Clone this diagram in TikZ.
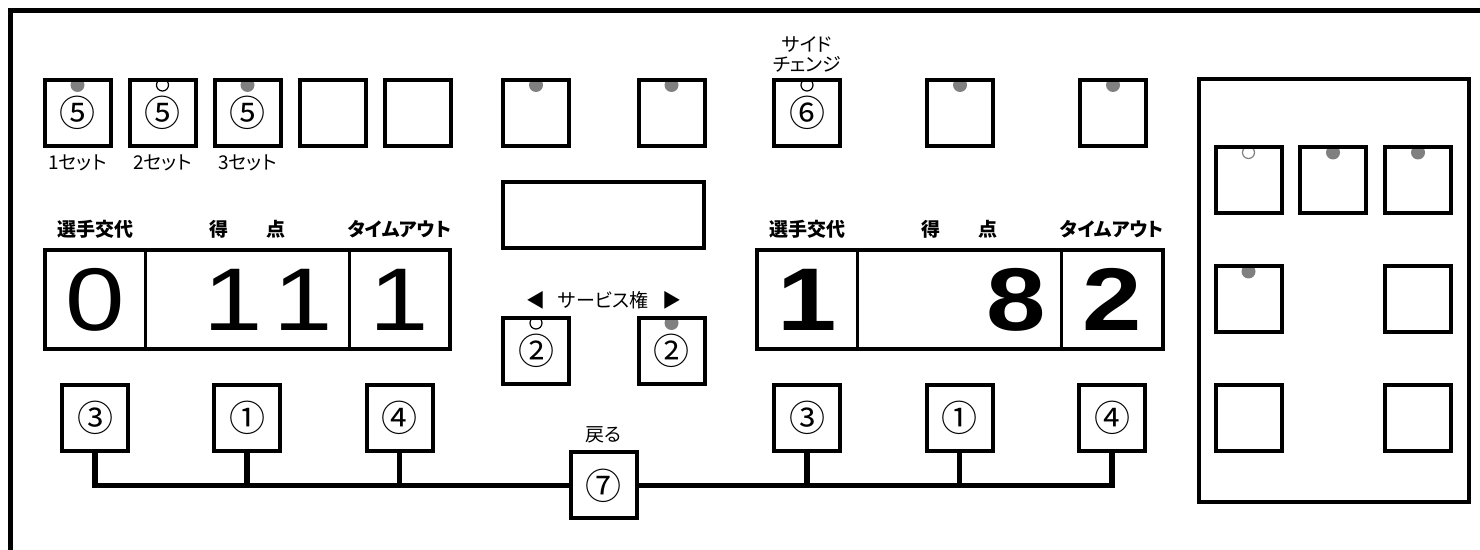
\documentclass[tikz,border=0pt]{standalone}
\usepackage{fontspec}
\setmainfont{Noto Sans CJK JP}[RawFeature=+palt]
\newfontfamily\digitfont[FakeStretch=1.2]{Liberation Sans}
\usepackage {tikz}
\usetikzlibrary {positioning}
\usetikzlibrary{backgrounds}
\definecolor{ledgray}{gray}{0.5}
\tikzstyle{block} = [rectangle, draw, line width=2pt, minimum width=33pt,
    minimum height=33pt, inner sep=0pt, font=\fontsize{18pt}{18pt}\selectfont]
\tikzstyle{cell} = [rectangle, draw, line width=1.5pt, minimum height=49.5pt,
    inner sep=0pt, outer sep=0pt]
\tikzstyle{line} = [draw, line width=2.75pt]
\tikzstyle{led} = [circle, fill=ledgray, minimum size=7pt, inner sep=0pt]
\tikzstyle{ledoff} = [circle, draw, fill=white, line width=0.6pt,
    minimum size=6pt, inner sep=0pt]
\tikzstyle{txt} = [font=\fontsize{9.5pt}{10pt}\selectfont, inner sep=0pt, align=center]
\tikzstyle{head} = [txt, font=\bfseries\fontsize{9.5pt}{10pt}\selectfont]
\tikzstyle{digit} = [inner sep=0pt, font=\digitfont\fontsize{44.5pt}{44.5pt}\selectfont]
\tikzstyle{digitb} = [digit, font=\digitfont\bfseries\fontsize{44.5pt}{44.5pt}\selectfont]

\begin{document}
\begin{tikzpicture}[x=0.5pt, y=-0.5pt]
    \useasboundingbox (0,0) rectangle (1480,550);
    % Case
    \draw [line width=2.5pt] (10.5,570) -- (10.5,10.5) -- (1500,10.5);

    % Place nodes
    \node [block] (set1) at (77.5,113) {⑤};
    \node [block, right of=set1, node distance=42.5pt] (set2) {⑤};
    \node [block, right of=set2, node distance=42.5pt] (set3) {⑤};
    \node [block, right of=set3, node distance=42.5pt] (emp1) {};
    \node [block, right of=emp1, node distance=42.5pt] (emp2) {};
    \node [block, right of=emp2, node distance=59.25pt] (top1) {};
    \node [block, right of=top1, node distance=67.75pt] (top2) {};
    \node [block, right of=top2, node distance=67.75pt] (side) {⑥};
    \node [block, right of=side, node distance=76.5pt] (top3) {};
    \node [block, right of=top3, node distance=76.5pt] (top4) {};

    \node [txt, below of=set1, node distance=25pt] (lset1) {1セット};
    \node [txt, below of=set2, node distance=25pt] (lset2) {2セット};
    \node [txt, below of=set3, node distance=25pt] (lset3) {3セット};
    \node [txt, above of=side, node distance=29.5pt] (lside) {サイド\\チェンジ};

    \node [block, minimum width=100.5pt] (disp) at (603.5,215) {};
    \node [block, below of=top1, node distance=119pt] (serve1) {②};
    \node [block, below of=top2, node distance=119pt] (serve2) {②};
    \node [txt, below of=disp, node distance=42.5pt] (lserve) {サービス権};
    \node [txt, above of=serve1, node distance=25.5pt] (arrL) {◀};
    \node [txt, above of=serve2, node distance=25.5pt] (arrR) {▶};

    % Left score board
    \node [cell, minimum width=50pt] (kotaiA) at (95,299.5) {};
    \node [cell, minimum width=102pt, right of=kotaiA, node distance=76pt] (tokuA) {};
    \node [cell, minimum width=50.5pt, right of=tokuA, node distance=76.25pt] (timeA) {};
    \draw [line width=2pt] (kotaiA.north west) rectangle (timeA.south east);
    \node [digit] (nkA) at (kotaiA) {0};
    \node [digit, anchor=east] (ntA) at ([xshift=-8pt]tokuA.east) {1\kern5pt1};
    \node [digit] (nmA) at (timeA) {1};
    \node [head, above of=kotaiA, node distance=35pt] (hkA) {選手交代};
    \node [head, above of=tokuA, node distance=35pt] (htA) {得　　点};
    \node [head, above of=timeA, node distance=35pt] (hmA) {タイムアウト};

    % Right score board
    \node [cell, minimum width=50.5pt, below of=side, node distance=93.25pt] (kotaiB) {};
    \node [cell, minimum width=102pt, right of=kotaiB, node distance=76.25pt] (tokuB) {};
    \node [cell, minimum width=50.5pt, right of=tokuB, node distance=76.25pt] (timeB) {};
    \draw [line width=2pt] (kotaiB.north west) rectangle (timeB.south east);
    \node [digitb] (nkB) at (kotaiB) {1};
    \node [digitb, anchor=east] (ntB) at ([xshift=-7.5pt]tokuB.east) {8};
    \node [digitb] (nmB) at (timeB) {2};
    \node [head, above of=kotaiB, node distance=35pt] (hkB) {選手交代};
    \node [head, above of=tokuB, node distance=35pt] (htB) {得　　点};
    \node [head, above of=timeB, node distance=35pt] (hmB) {タイムアウト};

    % Buttons below
    \node [block, below of=kotaiA, node distance=59.25pt] (chgA) {③};
    \node [block, below of=tokuA, node distance=59.25pt] (scoreA) {①};
    \node [block, below of=timeA, node distance=59.25pt] (toA) {④};
    \node [block, below of=kotaiB, node distance=59.25pt] (chgB) {③};
    \node [block, below of=tokuB, node distance=59.25pt] (scoreB) {①};
    \node [block, below of=timeB, node distance=59.25pt] (toB) {④};
    \node [block, below of=disp, node distance=135.25pt] (back) {⑦};
    \node [txt, above of=back, node distance=25.25pt] (lback) {戻る};

    % Key pad
    \node [draw, line width=2pt, minimum width=135.25pt, minimum height=211.5pt,
        inner sep=0pt] (pad) at (1333.75,291) {};
    \node [block] (key1) at (1248.5,180.5) {};
    \node [block, right of=key1, node distance=42.25pt] (key2) {};
    \node [block, right of=key2, node distance=42.5pt] (key3) {};
    \node [block, below of=key1, node distance=59.5pt] (key4) {};
    \node [block, below of=key3, node distance=59.5pt] (key5) {};
    \node [block, below of=key4, node distance=59.25pt] (key6) {};
    \node [block, below of=key5, node distance=59.25pt] (key7) {};

    % Lamps
    \begin{scope}[on background layer]
    \node [led] (d1) at ([yshift=-3.5pt]set1.north) {};
    \node [ledoff] (d2) at ([yshift=-3.5pt]set2.north) {};
    \node [led] (d3) at ([yshift=-3.5pt]set3.north) {};
    \node [led] (d4) at ([yshift=-3.5pt]top1.north) {};
    \node [led] (d5) at ([yshift=-3.5pt]top2.north) {};
    \node [ledoff] (d6) at ([yshift=-3.5pt]side.north) {};
    \node [led] (d7) at ([yshift=-3.5pt]top3.north) {};
    \node [led] (d8) at ([yshift=-3.5pt]top4.north) {};
    \node [ledoff] (d9) at ([yshift=-3.5pt]serve1.north) {};
    \node [led] (d10) at ([yshift=-3.5pt]serve2.north) {};
    \node [ledoff, draw=ledgray] (d11) at ([yshift=-3.5pt]key1.north) {};
    \node [led] (d12) at ([yshift=-3.5pt]key2.north) {};
    \node [led] (d13) at ([yshift=-3.5pt]key3.north) {};
    \node [led] (d14) at ([yshift=-3.5pt]key4.north) {};
    \end{scope}

    % Draw edges
    \path [line] (chgA.south) |- (back.west);
    \path [line] (scoreA.south) -- (scoreA.south |- back.west);
    \path [line] (toA.south) -- (toA.south |- back.west);
    \path [line] (back.east) -| (toB.south);
    \path [line] (chgB.south) -- (chgB.south |- back.east);
    \path [line] (scoreB.south) -- (scoreB.south |- back.east);
\end{tikzpicture}
\end{document}
